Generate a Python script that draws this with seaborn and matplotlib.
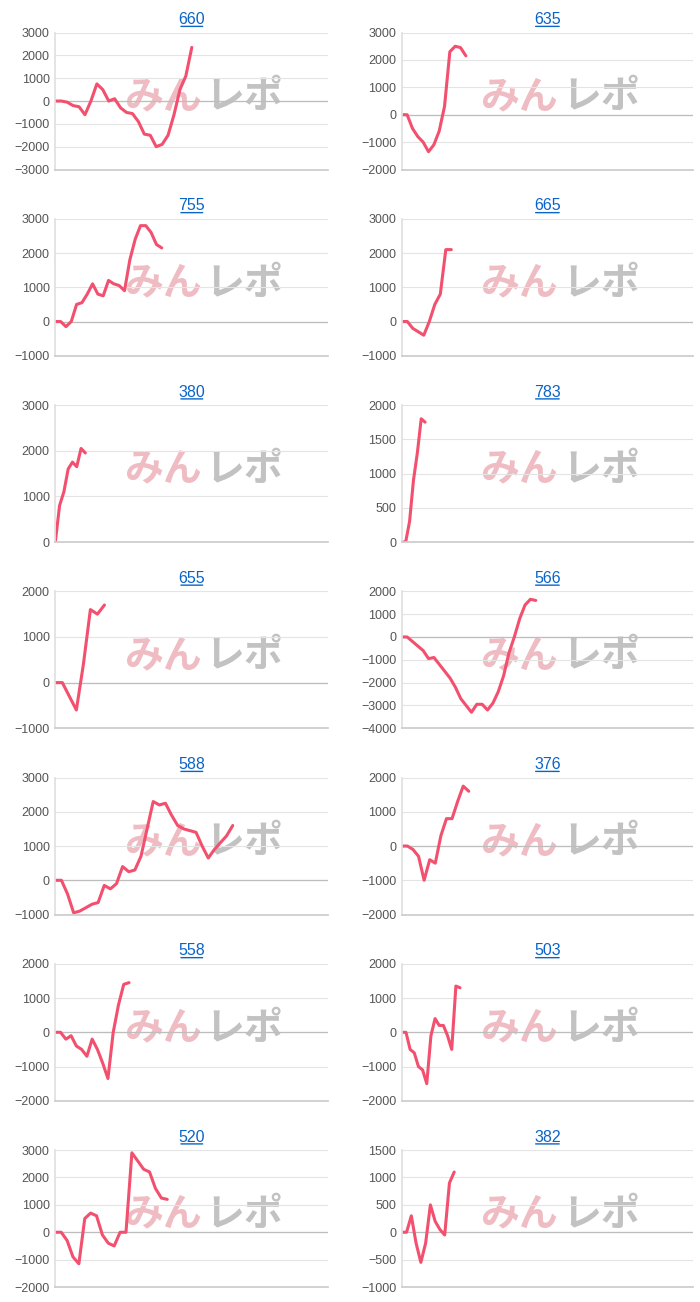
import numpy as np
import pandas as pd
import seaborn as sns
import matplotlib.pyplot as plt

titles = ["660", "635", "755", "665", "380", "783", "655", "566", "588", "376", "558", "503", "520", "382"]

series = [
    [0, 0, -50, -200, -250, -600, 0, 750, 500, 0, 100, -300, -500, -550, -900, -1450, -1500, -2000, -1900, -1500, -600, 500, 1100, 2350],
    [0, 0, -500, -800, -1000, -1350, -1100, -600, 300, 2300, 2500, 2450, 2150],
    [0, 0, -150, 0, 500, 550, 800, 1100, 800, 750, 1200, 1100, 1050, 900, 1800, 2400, 2800, 2800, 2600, 2250, 2150],
    [0, 0, -200, -300, -400, 0, 500, 800, 2100, 2100],
    [0, 800, 1100, 1600, 1750, 1650, 2050, 1950],
    [0, 0, 300, 900, 1300, 1800, 1750],
    [0, 0, -300, -600, 400, 1600, 1500, 1700],
    [0, 0, -200, -400, -600, -950, -900, -1200, -1500, -1800, -2200, -2700, -3000, -3300, -2950, -2950, -3200, -2900, -2400, -1700, -700, 0, 800, 1400, 1650, 1600],
    [0, 0, -400, -950, -900, -800, -700, -650, -150, -250, -100, 400, 250, 300, 700, 1500, 2300, 2200, 2250, 1900, 1600, 1500, 1450, 1400, 1000, 650, 900, 1100, 1300, 1600],
    [0, 0, -100, -300, -1000, -400, -500, 300, 800, 800, 1300, 1750, 1600],
    [0, 0, -200, -100, -400, -500, -700, -200, -500, -900, -1350, 0, 800, 1400, 1450],
    [0, 0, -500, -600, -1000, -1100, -1500, -100, 400, 200, 200, -100, -500, 1350, 1300],
    [0, 0, -300, -900, -1150, 500, 700, 600, -100, -400, -500, 0, 0, 2900, 2600, 2300, 2200, 1600, 1250, 1200],
    [0, 0, 300, -200, -550, -200, 500, 200, 50, -50, 900, 1100],
]

# fraction of the axis width each line reaches
spans = [0.50, 0.22, 0.39, 0.17, 0.11, 0.08, 0.18, 0.46, 0.65, 0.23, 0.27, 0.20, 0.41, 0.18]

ylims = [(-3000, 3000, 1000), (-2000, 3000, 1000), (-1000, 3000, 1000), (-1000, 3000, 1000),
         (0, 3000, 1000), (0, 2000, 500), (-1000, 2000, 1000), (-4000, 2000, 1000),
         (-1000, 3000, 1000), (-2000, 2000, 1000), (-2000, 2000, 1000), (-2000, 2000, 1000),
         (-2000, 3000, 1000), (-1000, 1500, 500)]

sns.set_theme(style="white")
plt.rcParams['font.family'] = ['Liberation Sans', 'Noto Sans CJK JP', 'DejaVu Sans']

fig, axes = plt.subplots(7, 2, figsize=(7, 13.02), dpi=100)
fig.subplots_adjust(left=0.078, right=0.99, top=0.975, bottom=0.0115, hspace=0.36, wspace=0.22)

col_x = [(0.079, 0.469), (0.574, 0.990)]

for i, ax in enumerate(axes.flat):
    pos = ax.get_position()
    x0, x1 = col_x[i % 2]
    ax.set_position([x0, pos.y0, x1 - x0, pos.height])
    vals = series[i]
    df = pd.DataFrame({"x": np.arange(len(vals)), "y": vals})
    sns.lineplot(data=df, x="x", y="y", ax=ax, color="#f2506e", linewidth=2.2)
    lo, hi, st = ylims[i]
    ax.set_ylim(lo, hi)
    ax.set_yticks(np.arange(lo, hi + 1, st))
    ax.set_xlim(0, (len(vals) - 1) / spans[i])
    ax.set_xticks([])
    ax.set_xlabel("")
    ax.set_ylabel("")
    ax.grid(axis="y", color="#e4e4e4", linewidth=0.8)
    ax.set_axisbelow(True)
    if lo < 0:
        ax.axhline(0, color="#bdbdbd", linewidth=0.9, zorder=1)
    for s in ["top", "right"]:
        ax.spines[s].set_visible(False)
    ax.spines["left"].set_color("#e0e0e0")
    ax.spines["bottom"].set_color("#cccccc")
    ax.tick_params(axis="y", labelsize=9, colors="#555555", length=0, pad=4)
    ax.set_title(titles[i], color="#0a64c8", fontsize=11.5, pad=6)
    # underline the title
    ax.annotate("", xy=(0.45, 1.045), xytext=(0.55, 1.045), xycoords="axes fraction",
                arrowprops=dict(arrowstyle="-", color="#0a64c8", lw=1))
    # watermark
    ax.text(0.535, 0.52, "みん", transform=ax.transAxes, ha="right", va="center",
            fontsize=28, fontweight="bold", color="#e8a0a8", alpha=0.7, style="italic", zorder=0)
    ax.text(0.55, 0.52, "レポ", transform=ax.transAxes, ha="left", va="center",
            fontsize=28, fontweight="bold", color="#a8a8a8", alpha=0.7, style="italic", zorder=0)

fig.savefig("out.png", dpi=100, facecolor="white")
